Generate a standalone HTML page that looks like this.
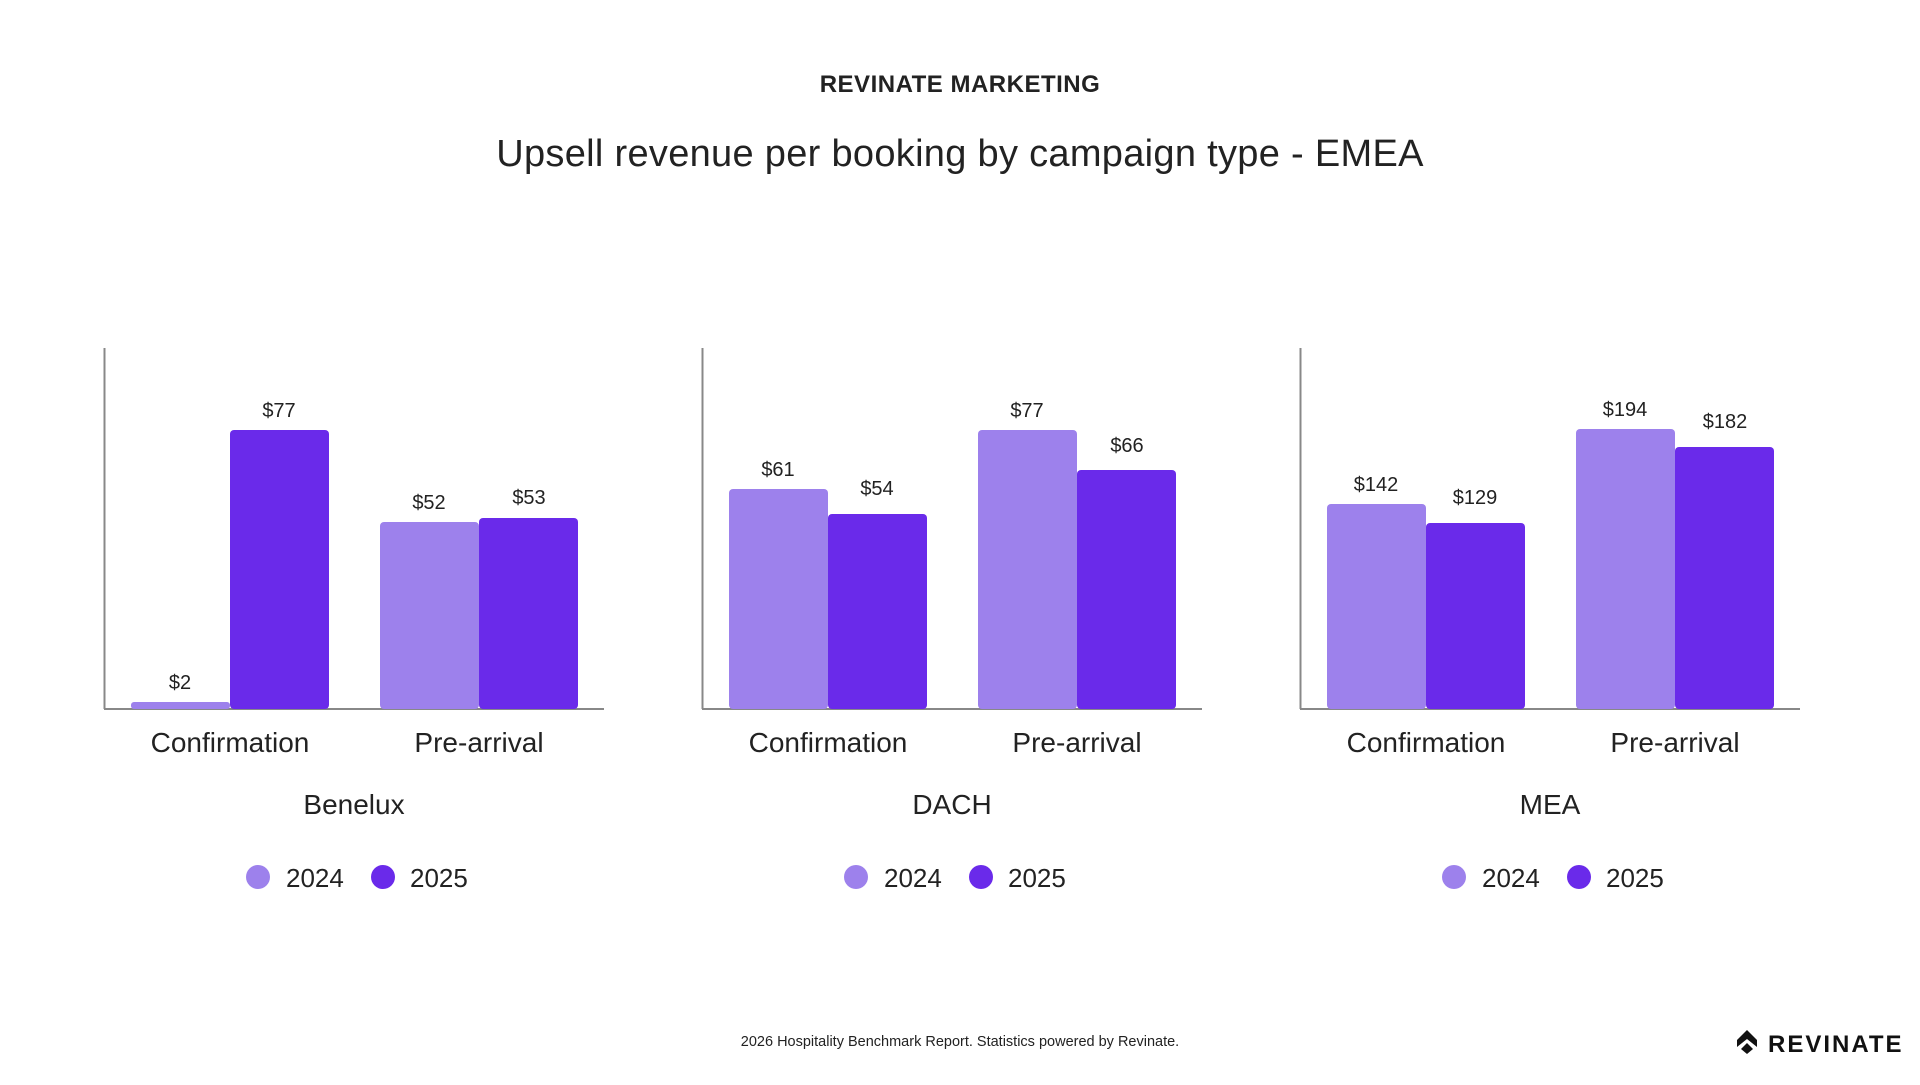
<!DOCTYPE html>
<html><head><meta charset="utf-8"><style>
body{margin:0;width:1920px;height:1080px;background:#fff;overflow:hidden}
svg text{font-family:"Liberation Sans",sans-serif;fill:#222}
</style></head><body>
<svg width="1920" height="1080" viewBox="0 0 1920 1080">
<text x="960" y="92" text-anchor="middle" font-size="24" font-weight="bold" letter-spacing="0.5">REVINATE MARKETING</text>
<text x="960" y="166" text-anchor="middle" font-size="38" letter-spacing="0.3">Upsell revenue per booking by campaign type - EMEA</text>

<g id="c1">
<line x1="104.5" y1="348" x2="104.5" y2="709" stroke="#888" stroke-width="2"/>
<line x1="104" y1="709" x2="604" y2="709" stroke="#888" stroke-width="2"/>
<rect x="131" y="702" width="99" height="7" rx="3" fill="#9d81ec"/>
<rect x="230" y="430" width="99" height="279" rx="4" fill="#6a2aea"/>
<rect x="380" y="522" width="99" height="187" rx="4" fill="#9d81ec"/>
<rect x="479" y="518" width="99" height="191" rx="4" fill="#6a2aea"/>
<g font-size="20" text-anchor="middle">
<text x="180" y="689">$2</text><text x="279" y="417">$77</text>
<text x="429" y="509">$52</text><text x="529" y="504">$53</text></g>
<g font-size="28" text-anchor="middle"><text x="230" y="752">Confirmation</text><text x="479" y="752">Pre-arrival</text>
<text x="354" y="814">Benelux</text></g>
<circle cx="258" cy="877" r="12" fill="#9d81ec"/><text x="286" y="887" font-size="26">2024</text>
<circle cx="383" cy="877" r="12" fill="#6a2aea"/><text x="410" y="887" font-size="26">2025</text>
</g>

<g transform="translate(598,0)">
<line x1="104.5" y1="348" x2="104.5" y2="709" stroke="#888" stroke-width="2"/>
<line x1="104" y1="709" x2="604" y2="709" stroke="#888" stroke-width="2"/>
<rect x="131" y="489" width="99" height="220" rx="4" fill="#9d81ec"/>
<rect x="230" y="514" width="99" height="195" rx="4" fill="#6a2aea"/>
<rect x="380" y="430" width="99" height="279" rx="4" fill="#9d81ec"/>
<rect x="479" y="470" width="99" height="239" rx="4" fill="#6a2aea"/>
<g font-size="20" text-anchor="middle">
<text x="180" y="476">$61</text><text x="279" y="495">$54</text>
<text x="429" y="417">$77</text><text x="529" y="452">$66</text></g>
<g font-size="28" text-anchor="middle"><text x="230" y="752">Confirmation</text><text x="479" y="752">Pre-arrival</text>
<text x="354" y="814">DACH</text></g>
<circle cx="258" cy="877" r="12" fill="#9d81ec"/><text x="286" y="887" font-size="26">2024</text>
<circle cx="383" cy="877" r="12" fill="#6a2aea"/><text x="410" y="887" font-size="26">2025</text>
</g>

<g transform="translate(1196,0)">
<line x1="104.5" y1="348" x2="104.5" y2="709" stroke="#888" stroke-width="2"/>
<line x1="104" y1="709" x2="604" y2="709" stroke="#888" stroke-width="2"/>
<rect x="131" y="504" width="99" height="205" rx="4" fill="#9d81ec"/>
<rect x="230" y="523" width="99" height="186" rx="4" fill="#6a2aea"/>
<rect x="380" y="429" width="99" height="280" rx="4" fill="#9d81ec"/>
<rect x="479" y="447" width="99" height="262" rx="4" fill="#6a2aea"/>
<g font-size="20" text-anchor="middle">
<text x="180" y="491">$142</text><text x="279" y="504">$129</text>
<text x="429" y="416">$194</text><text x="529" y="428">$182</text></g>
<g font-size="28" text-anchor="middle"><text x="230" y="752">Confirmation</text><text x="479" y="752">Pre-arrival</text>
<text x="354" y="814">MEA</text></g>
<circle cx="258" cy="877" r="12" fill="#9d81ec"/><text x="286" y="887" font-size="26">2024</text>
<circle cx="383" cy="877" r="12" fill="#6a2aea"/><text x="410" y="887" font-size="26">2025</text>
</g>

<text x="960" y="1046" text-anchor="middle" font-size="14.5">2026 Hospitality Benchmark Report. Statistics powered by Revinate.</text>
<g transform="translate(1737,1030)">
<path d="M10 0 L20 10 L20 17 L10 9 L0 17 L0 10 Z" fill="#111"/>
<path d="M10 13 L16 19 L10 24 L4 19 Z" fill="#111"/>
</g>
<text x="1768" y="1052" font-size="24" letter-spacing="2" font-weight="bold" style="fill:#111">REVINATE</text>
</svg>
</body></html>
